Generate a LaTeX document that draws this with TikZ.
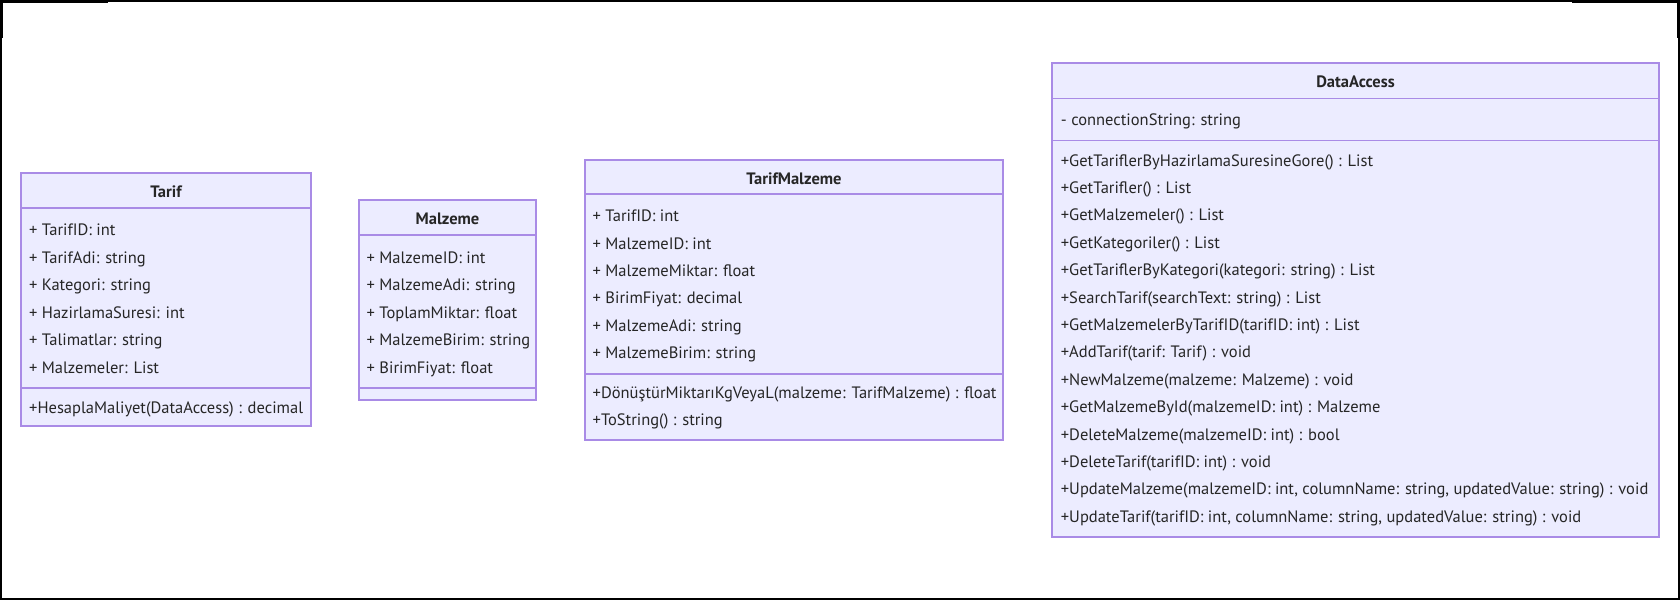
\documentclass[tikz,border=0pt]{standalone}
\usepackage{fontspec}
\setmainfont{PT Sans}
\begin{document}
\begin{tikzpicture}[x=1pt,y=-1pt,
  box/.style={draw=umlstroke,fill=umlfill,line width=1.3pt,inner sep=0pt,outer sep=0pt},
  txt/.style={anchor=base west,inner sep=0pt,text=umltext,font=\fontsize{16.5}{19}\selectfont},
  ttl/.style={anchor=base,inner sep=0pt,text=umltext,font=\fontsize{16.5}{19}\selectfont\bfseries},
  frame/.style={draw=black,line width=2pt}]
\definecolor{umlfill}{HTML}{ECECFF}
\definecolor{umlstroke}{HTML}{A98BE6}
\definecolor{umltext}{HTML}{262626}
\useasboundingbox (0,0) rectangle (1680,600);
\fill[white] (0,0) rectangle (1680,600);
% frame
\draw[frame] (1,1) rectangle (1679,599);
\fill[black] (0,0) rectangle (108,3);
\fill[black] (0,0) rectangle (3,38);
\fill[black] (1572,0) rectangle (1680,3);
\fill[black] (1677,0) rectangle (1680,38);

% ---------- Tarif ----------
\node[box,minimum width=290pt,minimum height=35pt,anchor=north west] (tH) at (21,173) {};
\node[box,minimum width=290pt,minimum height=180pt,anchor=north west] (tA) at (21,208) {};
\node[box,minimum width=290pt,minimum height=38pt,anchor=north west] (tM) at (21,388) {};
\node[ttl] (tT) at ([yshift=-7pt]tH.center) {Tarif};
\foreach \t [count=\i from 0] in {{+ TarifID: int},{+ TarifAdi: string},{+ Kategori: string},{+ HazirlamaSuresi: int},{+ Talimatlar: string},{+ Malzemeler: List}}
  \node[txt] (ta\i) at (29,235.7+27.5*\i) {\t};
\node[txt] (tm0) at (29,413.5) {+HesaplaMaliyet(DataAccess) : decimal};

% ---------- Malzeme ----------
\node[box,minimum width=177pt,minimum height=35pt,anchor=north west] (mH) at (359,200) {};
\node[box,minimum width=177pt,minimum height=153pt,anchor=north west] (mA) at (359,235) {};
\node[box,minimum width=177pt,minimum height=12pt,anchor=north west] (mM) at (359,388) {};
\node[ttl] (mT) at ([yshift=-7pt]mH.center) {Malzeme};
\foreach \t [count=\i from 0] in {{+ MalzemeID: int},{+ MalzemeAdi: string},{+ ToplamMiktar: float},{+ MalzemeBirim: string},{+ BirimFiyat: float}}
  \node[txt] (ma\i) at (366.5,263.5+27.4*\i) {\t};

% ---------- TarifMalzeme ----------
\node[box,minimum width=418pt,minimum height=34pt,anchor=north west] (pH) at (585,160) {};
\node[box,minimum width=418pt,minimum height=180pt,anchor=north west] (pA) at (585,194) {};
\node[box,minimum width=418pt,minimum height=66pt,anchor=north west] (pM) at (585,374) {};
\node[ttl] (pT) at ([yshift=-7pt]pH.center) {TarifMalzeme};
\foreach \t [count=\i from 0] in {{+ TarifID: int},{+ MalzemeID: int},{+ MalzemeMiktar: float},{+ BirimFiyat: decimal},{+ MalzemeAdi: string},{+ MalzemeBirim: string}}
  \node[txt] (pa\i) at (592.5,221.7+27.4*\i) {\t};
\node[txt] (pm0) at (592.5,398.5) {+DönüştürMiktarıKgVeyaL(malzeme: TarifMalzeme) : float};
\node[txt] (pm1) at (592.5,425.9) {+ToString() : string};

% ---------- DataAccess ----------
\node[box,minimum width=607pt,minimum height=35.6pt,anchor=north west] (dH) at (1052,63) {};
\node[box,minimum width=607pt,minimum height=41.8pt,anchor=north west] (dA) at (1052,98.6) {};
\node[box,minimum width=607pt,minimum height=396.6pt,anchor=north west] (dM) at (1052,140.4) {};
\node[ttl] (dT) at ([yshift=-7pt]dH.center) {DataAccess};
\node[txt] (da0) at (1060.7,125.3) {- connectionString: string};
\foreach \t [count=\i from 0] in {
  {+GetTariflerByHazirlamaSuresineGore() : List},
  {+GetTarifler() : List},
  {+GetMalzemeler() : List},
  {+GetKategoriler() : List},
  {+GetTariflerByKategori(kategori: string) : List},
  {+SearchTarif(searchText: string) : List},
  {+GetMalzemelerByTarifID(tarifID: int) : List},
  {+AddTarif(tarif: Tarif) : void},
  {+NewMalzeme(malzeme: Malzeme) : void},
  {+GetMalzemeById(malzemeID: int) : Malzeme},
  {+DeleteMalzeme(malzemeID: int) : bool},
  {+DeleteTarif(tarifID: int) : void},
  {+UpdateMalzeme(malzemeID: int, columnName: string, updatedValue: string) : void},
  {+UpdateTarif(tarifID: int, columnName: string, updatedValue: string) : void}}
  \node[txt] (dm\i) at (1060.7,166+27.4*\i) {\t};
\end{tikzpicture}
\end{document}
